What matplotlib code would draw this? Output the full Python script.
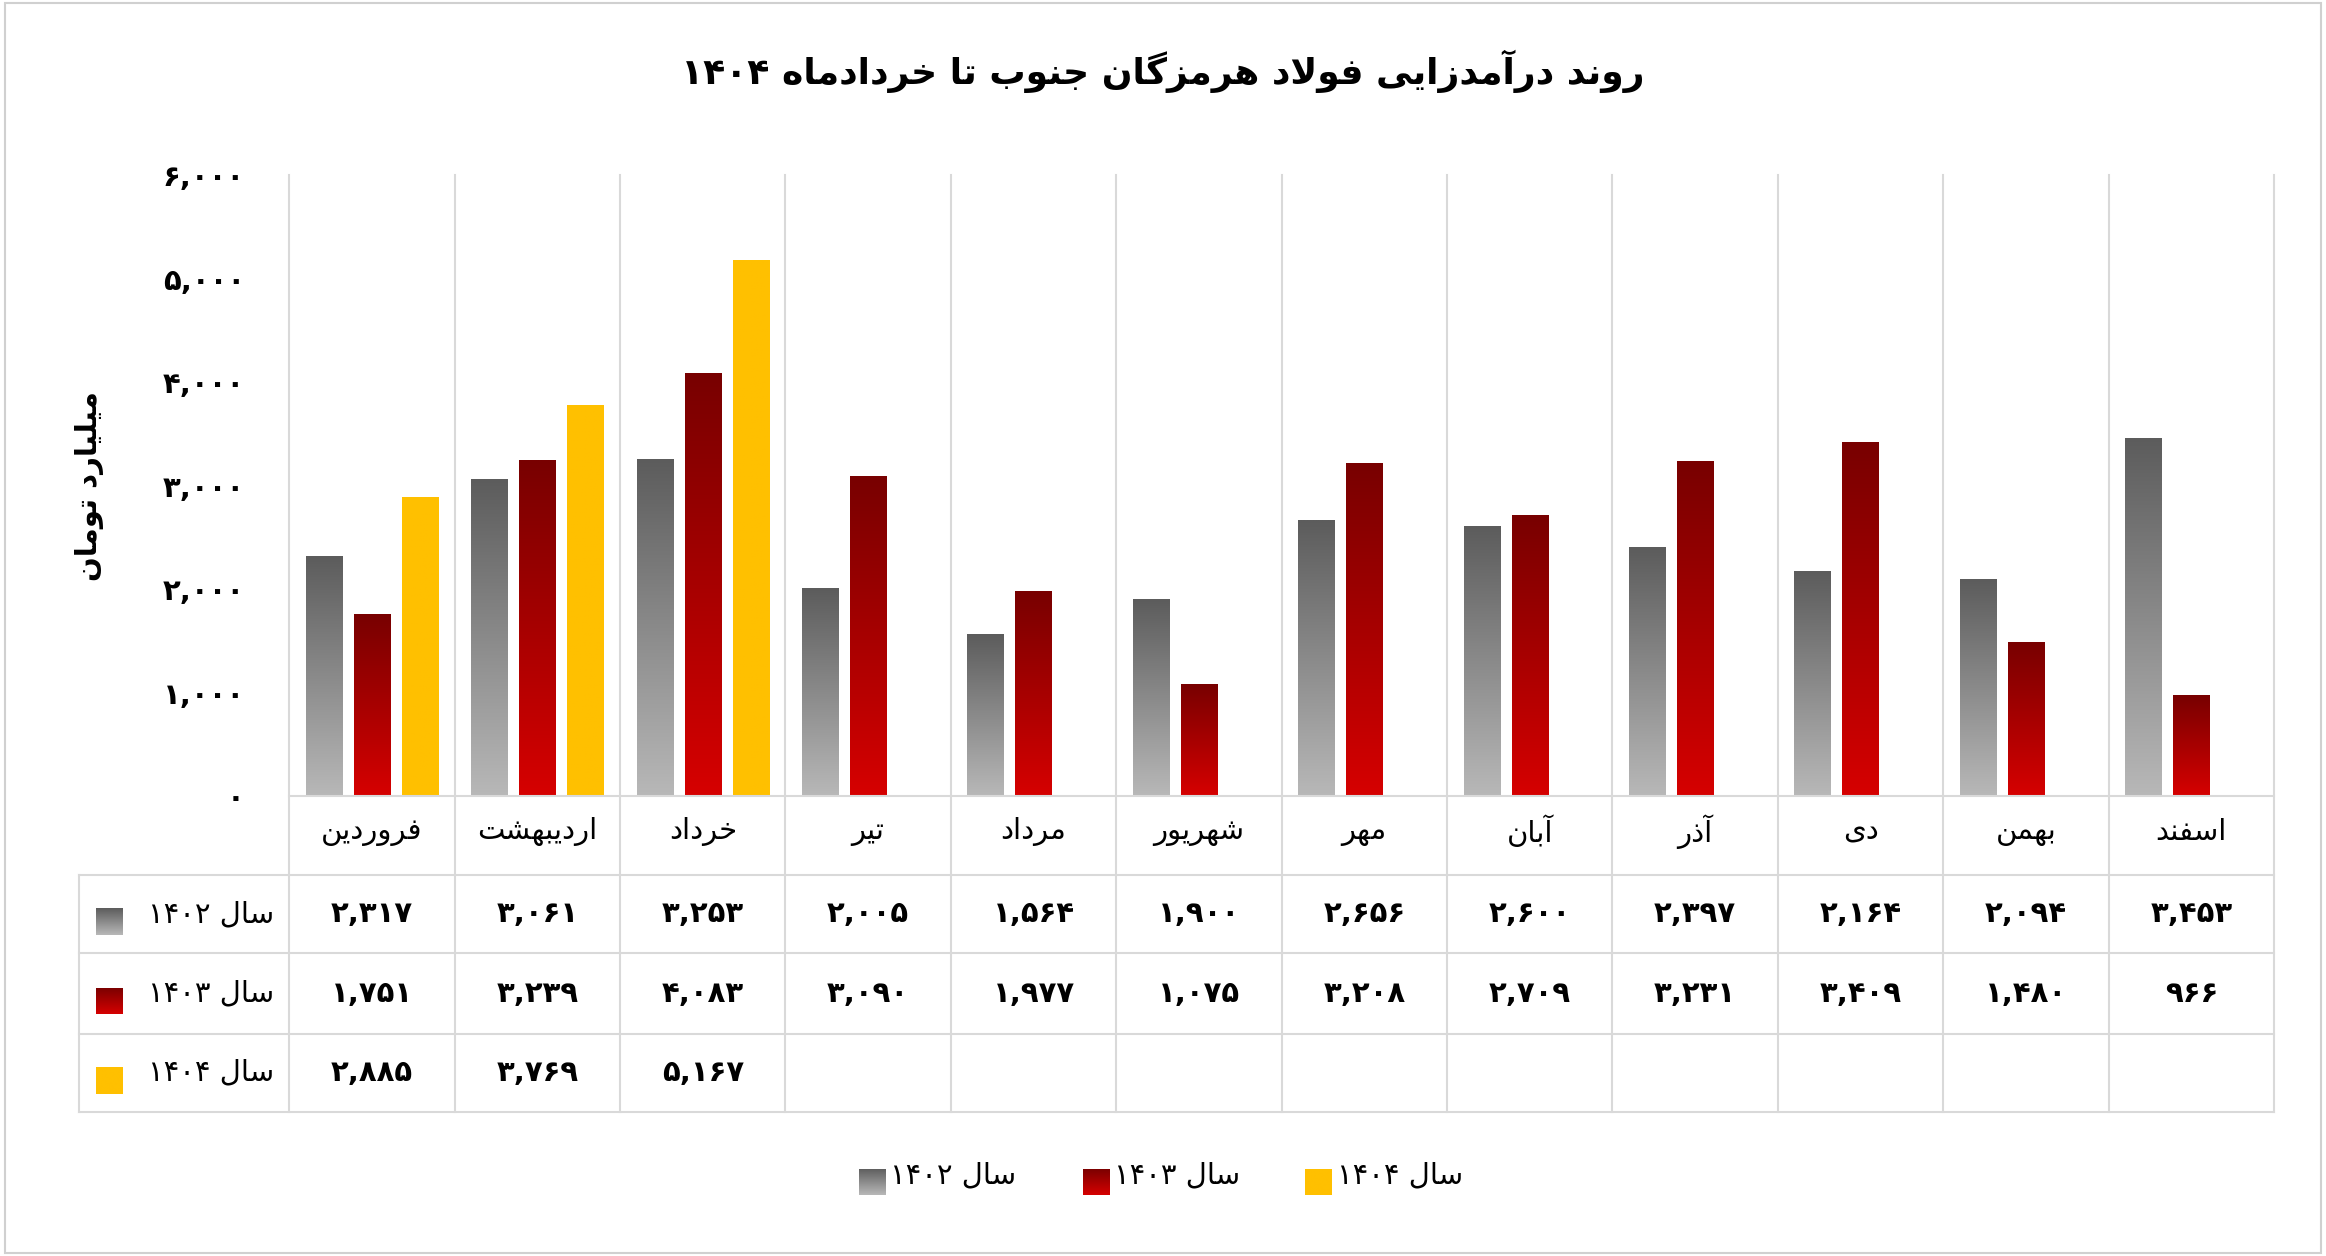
import numpy as np
import matplotlib.pyplot as plt
from matplotlib.colors import LinearSegmentedColormap

# --- minimal Persian shaping (matplotlib has no RTL support)
FORMS = {
    'ا': ('\uFE8D', '\uFE8E'), 'آ': ('\uFE81', '\uFE82'), 'د': ('\uFEA9', '\uFEAA'),
    'ذ': ('\uFEAB', '\uFEAC'), 'ر': ('\uFEAD', '\uFEAE'), 'ز': ('\uFEAF', '\uFEB0'),
    'و': ('\uFEED', '\uFEEE'),
    'ب': ('\uFE8F', '\uFE90', '\uFE91', '\uFE92'), 'ت': ('\uFE95', '\uFE96', '\uFE97', '\uFE98'),
    'ج': ('\uFE9D', '\uFE9E', '\uFE9F', '\uFEA0'), 'خ': ('\uFEA5', '\uFEA6', '\uFEA7', '\uFEA8'),
    'س': ('\uFEB1', '\uFEB2', '\uFEB3', '\uFEB4'), 'ش': ('\uFEB5', '\uFEB6', '\uFEB7', '\uFEB8'),
    'ف': ('\uFED1', '\uFED2', '\uFED3', '\uFED4'), 'ل': ('\uFEDD', '\uFEDE', '\uFEDF', '\uFEE0'),
    'م': ('\uFEE1', '\uFEE2', '\uFEE3', '\uFEE4'), 'ن': ('\uFEE5', '\uFEE6', '\uFEE7', '\uFEE8'),
    'ه': ('\uFEE9', '\uFEEA', '\uFEEB', '\uFEEC'), 'ی': ('\uFBFC', '\uFBFD', '\uFBFE', '\uFBFF'),
    'گ': ('\uFB92', '\uFB93', '\uFB94', '\uFB95'),
}


def shape_word(w):
    if not any(c in FORMS for c in w):
        return w
    # lam-alef ligature
    chars = []
    i = 0
    while i < len(w):
        if w[i] == 'ل' and i + 1 < len(w) and w[i + 1] in 'اآ':
            chars.append('LA')
            i += 2
        else:
            chars.append(w[i])
            i += 1
    out = []
    for i, c in enumerate(chars):
        prev = chars[i - 1] if i > 0 else None
        nxt = chars[i + 1] if i + 1 < len(chars) else None
        jp = prev is not None and prev in FORMS and len(FORMS[prev]) == 4
        if c == 'LA':
            out.append('\uFEFC' if jp else '\uFEFB')
            continue
        f = FORMS[c]
        jn = len(f) == 4 and nxt is not None and (nxt in FORMS or nxt == 'LA')
        if jp and jn:
            out.append(f[3])
        elif jp:
            out.append(f[1])
        elif jn:
            out.append(f[2])
        else:
            out.append(f[0])
    return ''.join(reversed(out))


def fa(s):
    return ' '.join(shape_word(w) for w in reversed(s.split(' ')))


def fa_num(n):
    s = f'{n:,}'
    return s.translate(str.maketrans('0123456789', '۰۱۲۳۴۵۶۷۸۹'))


# --- data
months = ['فروردین', 'اردیبهشت', 'خرداد', 'تیر', 'مرداد', 'شهریور',
          'مهر', 'آبان', 'آذر', 'دی', 'بهمن', 'اسفند']
series_names = ['سال ۱۴۰۲', 'سال ۱۴۰۳', 'سال ۱۴۰۴']
y1402 = [2317, 3061, 3253, 2005, 1564, 1900, 2656, 2600, 2397, 2164, 2094, 3453]
y1403 = [1751, 3239, 4083, 3090, 1977, 1075, 3208, 2709, 3231, 3409, 1480, 966]
y1404 = [2885, 3769, 5167]
yticks = [0, 1000, 2000, 3000, 4000, 5000, 6000]

cmaps = [LinearSegmentedColormap.from_list('g', ['#b8b8b8', '#5c5c5c']),
         LinearSegmentedColormap.from_list('r', ['#d60000', '#780000']),
         LinearSegmentedColormap.from_list('y', ['#ffc000', '#ffc000'])]
FONT = 'DejaVu Sans'
FS = 21

W, H = 1568, 847
fig = plt.figure(figsize=(23.26, 12.56), dpi=100)
fig.patches.append(plt.Rectangle((0.002, 0.002), 0.996, 0.996, transform=fig.transFigure,
                                 fill=False, edgecolor='#d0d0d0', lw=1.5))

def fx(x): return x / W
def fy(y): return 1 - y / H

ax_l, ax_r, ax_t, ax_b = 195, 1533, 118, 537
ax = fig.add_axes([fx(ax_l), fy(ax_b), fx(ax_r) - fx(ax_l), fy(ax_t) - fy(ax_b)])
n = len(months)
grad = np.linspace(0, 1, 256).reshape(-1, 1)
bw = 0.22
offs = [0.21, 0.5, 0.79]
for k, vals in enumerate([y1402, y1403, y1404]):
    for i, v in enumerate(vals):
        x0 = i + offs[k] - bw / 2
        ax.imshow(grad, extent=[x0, x0 + bw, 0, v], origin='lower', aspect='auto',
                  cmap=cmaps[k], zorder=2)
ax.set_xlim(0, n)
ax.set_ylim(0, 6000)
for s in ax.spines.values():
    s.set_visible(False)
ax.set_xticks([])
ax.set_yticks(yticks)
ax.set_yticklabels([fa_num(t) for t in yticks], fontsize=FS, family=FONT, fontweight='bold')
ax.tick_params(axis='y', length=0, pad=32)

# grid / table lines
line_c = '#d9d9d9'
row_y = [537, 590, 643, 697, 750]
for i in range(n + 1):
    x = ax_l + i * (ax_r - ax_l) / n
    fig.add_artist(plt.Line2D([fx(x)] * 2, [fy(118), fy(750)], color=line_c, lw=1.5))
fig.add_artist(plt.Line2D([fx(53)] * 2, [fy(590), fy(750)], color=line_c, lw=1.5))
fig.add_artist(plt.Line2D([fx(ax_l), fx(ax_r)], [fy(537)] * 2, color=line_c, lw=1.5))
for y in row_y[1:]:
    fig.add_artist(plt.Line2D([fx(53), fx(ax_r)], [fy(y)] * 2, color=line_c, lw=1.5))

cw = (ax_r - ax_l) / n
for i, m in enumerate(months):
    fig.text(fx(ax_l + (i + 0.5) * cw), fy(561), fa(m), ha='center', va='center',
             fontsize=FS, family=FONT)


def swatch(x, y, k, s=18):
    a = fig.add_axes([fx(x - s / 2), fy(y + s / 2), s / W, s / H])
    a.imshow(grad, origin='lower', aspect='auto', cmap=cmaps[k], extent=[0, 1, 0, 1])
    a.axis('off')


for k, vals in enumerate([y1402, y1403, y1404]):
    yc = (row_y[k + 1] + row_y[k + 2]) / 2
    swatch(74, yc + 5, k)
    fig.text(fx(185), fy(yc), fa(series_names[k]), ha='right', va='center',
             fontsize=FS, family=FONT)
    for i, v in enumerate(vals):
        fig.text(fx(ax_l + (i + 0.5) * cw), fy(yc), fa_num(v), ha='center', va='center',
                 fontsize=FS, family=FONT, fontweight='bold')

# legend
for k, (xs, xt) in enumerate([(588, 600), (739, 751), (889, 901)]):
    swatch(xs, 797, k)
    fig.text(fx(xt), fy(793), fa(series_names[k]), ha='left', va='center',
             fontsize=FS, family=FONT)

fig.text(0.5, fy(48), fa('روند درآمدزایی فولاد هرمزگان جنوب تا خردادماه ۱۴۰۴'),
         ha='center', va='center', fontsize=26, family=FONT, fontweight='bold')
fig.text(fx(60), fy(328), fa('میلیارد تومان'), rotation=90, ha='center', va='center',
         fontsize=FS, family=FONT, fontweight='bold')

fig.savefig('out.png', dpi=100)
